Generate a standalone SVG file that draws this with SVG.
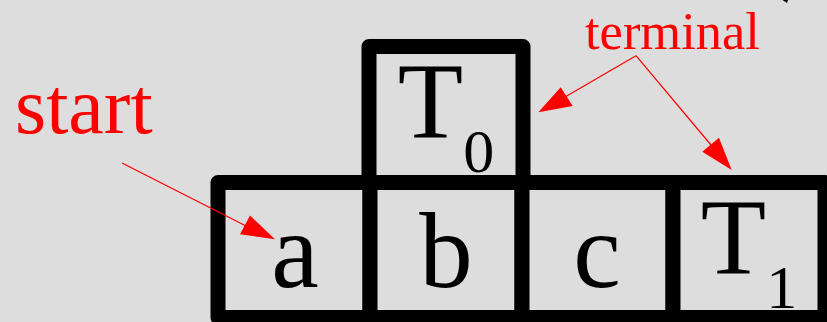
<svg xmlns="http://www.w3.org/2000/svg" width="827" height="322" viewBox="0 0 827 322">
<defs>
<style>
.box{fill:#dddddd;stroke:#000;stroke-width:15;stroke-linejoin:round}
.lbl{font-family:"Liberation Serif",serif;font-size:107px;fill:#000;text-anchor:middle}
.sub{font-size:62px}
.note{font-family:"Liberation Serif",serif;fill:#ff0000}
.arr{stroke:#ff0000;stroke-width:1.2;fill:none}
.head{fill:#ff0000}
</style>
</defs>
<rect width="827" height="322" fill="#dddddd"/>
<g id="T0">
<rect class="box" x="369" y="46.5" width="154" height="136"/>
<text class="lbl" x="446" y="137"><tspan>T</tspan><tspan class="sub" dy="35">0</tspan></text>
</g>
<g id="a">
<rect class="box" x="218" y="182.5" width="152" height="135"/>
<text class="lbl" x="295" y="287">a</text>
</g>
<g id="b">
<rect class="box" x="370" y="182.5" width="152" height="135"/>
<text class="lbl" x="446" y="287">b</text>
</g>
<g id="c">
<rect class="box" x="522" y="182.5" width="151" height="135"/>
<text class="lbl" x="597" y="287">c</text>
</g>
<g id="T1">
<rect class="box" x="673" y="182.5" width="152" height="135"/>
<text class="lbl" x="749" y="273"><tspan>T</tspan><tspan class="sub" dy="35">1</tspan></text>
</g>
<g id="labels">
<text class="note" x="15" y="133" font-size="80">start</text>
<text class="note" x="585" y="49" font-size="52.5">terminal</text>
</g>
<g id="connectors">
<line class="arr" x1="122" y1="163" x2="246" y2="226"/>
<polygon class="head" points="275,239.3 240,234.3 250,215.5"/>
<line class="arr" x1="636" y1="55.7" x2="565" y2="97"/>
<polygon class="head" points="538.3,112.3 560.7,87.3 572.7,106"/>
<line class="arr" x1="636" y1="55.7" x2="711" y2="145"/>
<polygon class="head" points="731.7,170 702.3,151.7 719,137.7"/>
<polygon fill="#000" points="782.5,0 788,0 787,3"/>
</g>
</svg>
